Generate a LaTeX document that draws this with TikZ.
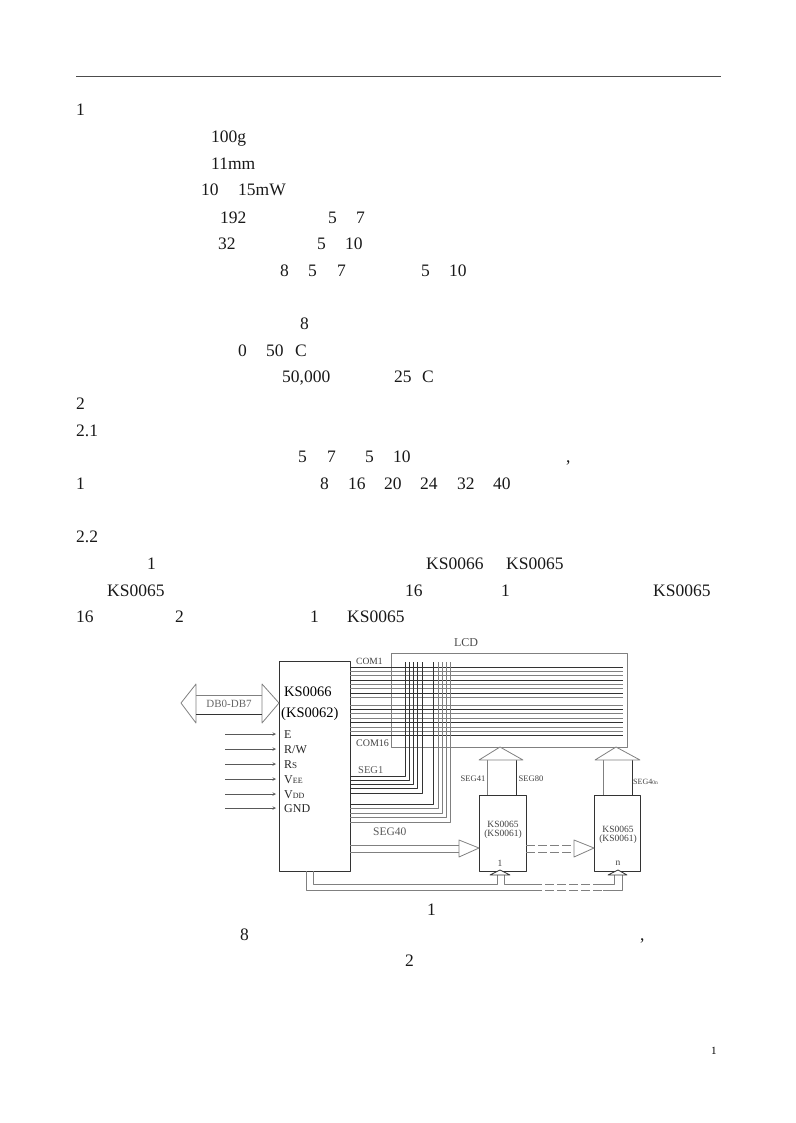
\documentclass[tikz,border=0pt]{standalone}
\usepackage{fontspec}
\setmainfont{Liberation Serif}
\usetikzlibrary{calc}
\definecolor{wiregray}{gray}{0.5}
\definecolor{wiredark}{gray}{0.2}
\newcommand{\fsz}[1]{\fontsize{#1}{#1}\selectfont}
\tikzset{
	body/.style={anchor=base west, inner sep=0pt, font=\fsz{17.5}, text=black!90},
	pin/.style={anchor=base west, inner sep=0pt, font=\fsz{12}, text=black!85},
	tag/.style={inner sep=0pt, font=\fsz{9.5}, text=black!75},
	chip/.style={draw=wiredark, line width=0.7pt, inner sep=0pt},
	wire/.style={draw=wiregray, line width=0.7pt},
	wired/.style={draw=wiredark, line width=0.7pt},
	headfill/.style={draw=wiregray, line width=0.8pt, fill=white},
	dashwire/.style={draw=wiregray, line width=0.8pt, dash pattern=on 9pt off 3pt}
}
\begin{document}
\begin{tikzpicture}[x=1pt, y=-1pt, line join=round, >=stealth]
	\useasboundingbox (0,0) rectangle (795,1123);
	\coordinate (ruleL) at (76,76); \coordinate (ruleR) at (721,76);
	\draw[black!70, line width=0.9pt] (ruleL) -- (ruleR);
	% text of the page: x/y/label
	\foreach \i/\x/\y/\t in {a1/76/116/1, a2/211/143/100g, a3/211/170/11mm, a4/201/196/10, a5/238/196/15mW,
		a6/220/223/192, a7/328/223/5, a8/356/223/7, a9/218/249/32, a10/317/249/5, a11/345/249/10,
		a12/280/276/8, a13/308/276/5, a14/337/276/7, a15/421/276/5, a16/449/276/10,
		a17/300/329/8, a18/238/356/0, a19/266/356/50, a20/295/356/C, a21/282/382/{50,000}, a22/394/382/25, a23/422/382/C,
		a24/76/409/2, a25/76/436/2.1, a26/298/462/5, a27/327/462/7, a28/365/462/5, a29/393/462/10, a30/566/462/{,},
		a31/76/489/1, a32/320/489/8, a33/348/489/16, a34/384/489/20, a35/420/489/24, a36/457/489/32, a37/493/489/40,
		a38/76/542/2.2, a39/147/569/1, a40/426/569/KS0066, a41/506/569/KS0065,
		a42/107/596/KS0065, a43/405/596/16, a44/501/596/1, a45/653/596/KS0065,
		a46/76/622/16, a47/175/622/2, a48/310/622/1, a49/347/622/KS0065,
		a50/427/915/1, a51/240/940/8, a52/640/940/{,}, a53/405/966/2}
		\node[body] (\i) at (\x,\y) {\t};
	\node[anchor=base west, inner sep=0pt, font=\fsz{11}] (pageno) at (711,1054) {1};

	% chips
	\node[chip, minimum width=71pt, minimum height=210pt] (main) at (314.5,766) {};
	\node[wire, draw, inner sep=0pt, minimum width=236pt, minimum height=94pt] (lcd) at (509,700) {};
	\node[chip, minimum width=47pt, minimum height=76pt] (drvA) at (502.5,833) {};
	\node[chip, minimum width=46pt, minimum height=76pt] (drvB) at (617,833) {};
	\node[inner sep=0pt, font=\fsz{12}, text=black!70] (lcdname) at (466,643) {LCD};
	\node[anchor=base west, inner sep=0pt, font=\fsz{14.5}] (nameA) at (284,696) {KS0066};
	\node[anchor=base west, inner sep=0pt, font=\fsz{14.5}] (nameB) at (281,717) {(KS0062)};
	\node[tag] (drvAa) at (503,824) {KS0065};
	\node[tag] (drvAb) at (503,834) {(KS0061)};
	\node[tag] (drvBa) at (618,829) {KS0065};
	\node[tag] (drvBb) at (618,839) {(KS0061)};
	\node[tag] (drvAn) at (500,863) {1};
	\node[tag] (drvBn) at (618,863) {n};

	% data bus
	\draw[headfill] (181,703) coordinate (busL) -- (196,684) -- (196,723) -- cycle;
	\draw[headfill] (279,703) coordinate (busR) -- (262,684) -- (262,723) -- cycle;
	\draw[wire] (196,695) -- (262,695);
	\draw[wired] (196,714) -- (262,714);
	\node[tag, font=\fsz{11}, text=black!60] (dbus) at (229,704) {DB0-DB7};

	% control pins
	\foreach \i/\y/\t in {pE/734/E, pR/749/{R/W}, pS/764/R{\fsz{9}S}, pV/779/V{\fsz{8}EE}, pD/794/V{\fsz{8}DD}, pG/808/GND} {
		\coordinate (\i s) at (225,\y);
		\coordinate (\i e) at (276,\y);
		\draw[->, wiregray!70!black, line width=0.6pt] (\i s) -- (\i e);
		\node[pin] (\i) at (284,\y+4) {\t};
	}

	% common lines
	\foreach \y [count=\n] in {667,671,675,680,684,688,693,697,705,709,713,718,722,727,731,735} {
		\pgfmathtruncatemacro{\dk}{mod(\n,3)==1 ? 1 : 0}
		\coordinate (comS\n) at (350,\y);
		\coordinate (comE\n) at (623,\y);
		\ifnum\dk=1 \draw[wired] (comS\n) -- (comE\n);
		\else \draw[wire] (comS\n) -- (comE\n); \fi
	}
	\node[anchor=base west, inner sep=0pt, font=\fsz{9.5}, text=black!75] (com1) at (356,664) {COM1};
	\node[anchor=base west, inner sep=0pt, font=\fsz{10}, text=black!75] (com16) at (356,746) {COM16};

	% segment lines
	\foreach \x/\y/\c in {405/776/wiredark, 409/780/wiredark, 413/784/wiredark, 417/788/wiredark, 422/793/wiredark,
		433/804/wiredark, 438/808/wiregray, 442/813/wiregray, 446/817/wiregray, 450/822/wiregray} {
		\coordinate (segT) at (\x,662);
		\coordinate (segB) at (350,\y);
		\draw[\c, line width=0.7pt] (segT) |- (segB);
	}
	\node[anchor=base west, inner sep=0pt, font=\fsz{10.5}, text=black!65] (seg1) at (358,773) {SEG1};
	\node[anchor=base west, inner sep=0pt, font=\fsz{11.5}, text=black!65] (seg40) at (373,835) {SEG40};

	% bus to the drivers
	\coordinate (bA1) at (350,845); \coordinate (bA2) at (350,852);
	\draw[wire] (bA1) -- (459,845); \draw[wire] (bA2) -- (459,852);
	\draw[headfill] (479,848) -- (459,840) -- (459,857) -- cycle;
	\draw[dashwire] (526,845) -- (574,845);
	\draw[dashwire] (526,852) -- (574,852);
	\draw[headfill] (594,848) -- (574,840) -- (574,857) -- cycle;

	% up to the display
	\draw[wire] (drvA.north -| 487,0) -- (487,760);
	\draw[wired] (drvA.north -| 516,0) -- (516,760);
	\draw[wire] (drvB.north -| 603,0) -- (603,760);
	\draw[wired] (drvB.north -| 632,0) -- (632,760);
	\draw[headfill] (479,760) -- (500,747) -- (523,760) -- cycle;
	\draw[headfill] (595,760) -- (616,747) -- (640,760) -- cycle;
	\node[tag, font=\fsz{8.5}] (seg41) at (473,779) {SEG41};
	\node[tag, font=\fsz{8.5}] (seg80) at (531,779) {SEG80};
	\node[anchor=base west, tag, font=\fsz{8}] (seg4n) at (633,784) {SEG4{\fsz{5.5}0n}};

	% enable lines
	\draw[wire] (main.south -| 313,0) |- (497,884) -- (497,875);
	\draw[wire] (504,875) |- (533,884);
	\draw[dashwire] (533,884) -- (600,884);
	\draw[wire] (600,884) -| (614,875);
	\draw[wire] (main.south -| 306,0) |- (533,890);
	\draw[dashwire] (533,890) -- (603,890);
	\draw[wire] (603,890) -| (622,875);
	\draw[wiredark, line width=0.8pt, fill=white] (490,875) -- (500,870) -- (510,875) -- cycle;
	\draw[wiredark, line width=0.8pt, fill=white] (608,875) -- (618,870) -- (627,875) -- cycle;
\end{tikzpicture}
\end{document}
